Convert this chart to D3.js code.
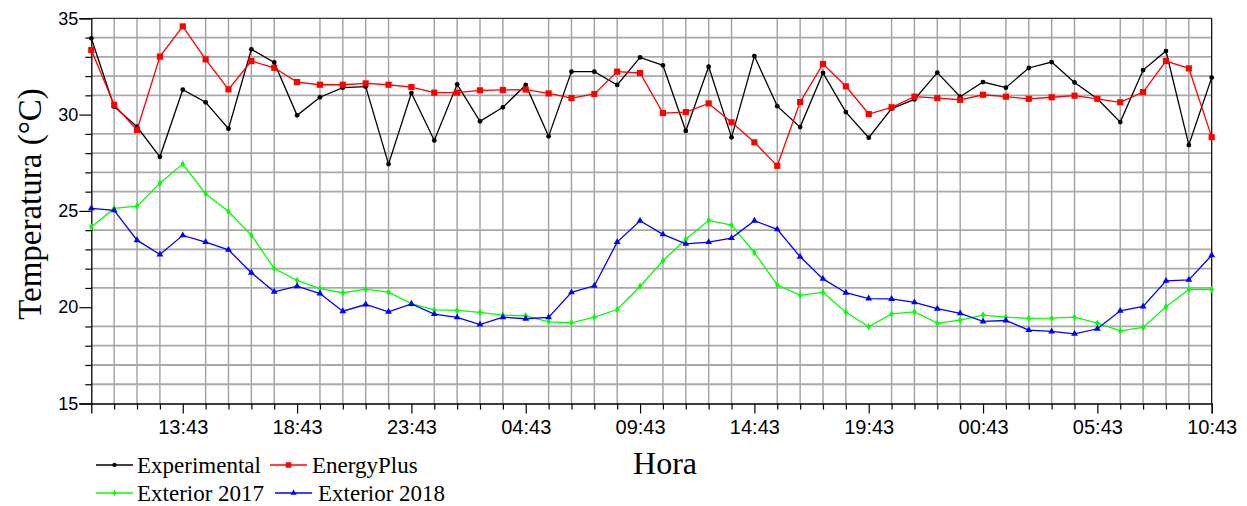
<!DOCTYPE html>
<html>
<head>
<meta charset="utf-8">
<script src="https://cdn.jsdelivr.net/npm/d3@7"></script>
<style>
  html, body { margin: 0; padding: 0; background: #fff; }
  svg { display: block; }
</style>
</head>
<body>
<svg id="chart" width="1247" height="506"></svg>
<script>
const hours = [
  "09:43","10:43","11:43","12:43","13:43","14:43","15:43","16:43","17:43","18:43",
  "19:43","20:43","21:43","22:43","23:43","00:43","01:43","02:43","03:43","04:43",
  "05:43","06:43","07:43","08:43","09:43","10:43","11:43","12:43","13:43","14:43",
  "15:43","16:43","17:43","18:43","19:43","20:43","21:43","22:43","23:43","00:43",
  "01:43","02:43","03:43","04:43","05:43","06:43","07:43","08:43","09:43","10:43"
];
const xTickIdx = [4, 9, 14, 19, 24, 29, 34, 39, 44, 49];
const yTicks = [15, 20, 25, 30, 35];

const experimental = [33.96,30.41,29.37,27.81,31.29,30.64,29.27,33.39,32.71,29.96,
  30.90,31.40,31.45,27.43,31.12,28.66,31.57,29.65,30.38,31.54,
  28.87,32.23,32.23,31.54,32.97,32.56,29.15,32.49,28.82,33.04,
  30.44,29.35,32.16,30.13,28.80,30.31,30.79,32.18,30.93,31.69,
  31.40,32.42,32.73,31.67,30.82,29.61,32.31,33.30,28.42,31.92];
const energyPlus = [33.35,30.51,29.20,33.01,34.58,32.87,31.31,32.78,32.43,31.69,
  31.55,31.55,31.62,31.55,31.43,31.14,31.14,31.26,31.28,31.30,
  31.10,30.86,31.07,32.23,32.16,30.08,30.13,30.58,29.60,28.56,
  27.34,30.65,32.63,31.47,30.03,30.38,30.93,30.86,30.77,31.03,
  30.93,30.82,30.90,30.98,30.82,30.64,31.17,32.78,32.40,28.83];
const exterior2017 = [24.16,25.13,25.25,26.44,27.43,25.89,24.97,23.74,22.01,21.39,
  20.97,20.75,20.94,20.78,20.19,19.86,19.83,19.73,19.59,19.55,
  19.24,19.19,19.48,19.88,21.09,22.41,23.53,24.51,24.26,22.84,
  21.16,20.61,20.78,19.74,18.98,19.65,19.76,19.17,19.33,19.59,
  19.48,19.42,19.43,19.48,19.17,18.77,18.95,20.02,20.92,20.92];
const exterior2018 = [25.13,25.03,23.48,22.74,23.73,23.38,22.98,21.79,20.80,21.09,
  20.71,19.79,20.14,19.76,20.17,19.64,19.47,19.10,19.48,19.40,
  19.47,20.77,21.11,23.38,24.49,23.78,23.29,23.38,23.59,24.49,
  24.04,22.62,21.47,20.75,20.45,20.43,20.25,19.92,19.68,19.26,
  19.31,18.81,18.74,18.62,18.88,19.81,20.04,21.37,21.42,22.70];

const seriesNames = ["Experimental", "EnergyPlus", "Exterior 2017", "Exterior 2018"];

const series = [
  { name: seriesNames[0], values: experimental, color: "#000000", symbol: d3.symbolCircle, size: 18 },
  { name: seriesNames[1], values: energyPlus, color: "#ff0000", symbol: d3.symbolSquare, size: 38 },
  { name: seriesNames[2], values: exterior2017, color: "#00ff00", symbol: d3.symbolDiamond, size: 16 },
  { name: seriesNames[3], values: exterior2018, color: "#0000ff", symbol: d3.symbolTriangle, size: 20 }
];

const svg = d3.select("#chart");
const L = 91.3, R = 1211.7, T = 18.3, B = 403.5;

const x = d3.scaleLinear().domain([0, hours.length - 1]).range([L, R]);
const y = d3.scaleLinear().domain([15, 35]).range([B, T]);

const g = svg.append("g");

// grid (minor positions only)
const allIdx = d3.range(1, hours.length - 1).filter(i => !xTickIdx.includes(i));
g.selectAll(".vgrid").data(allIdx).join("line")
  .attr("x1", d => x(d)).attr("x2", d => x(d))
  .attr("y1", T).attr("y2", B)
  .attr("stroke", "#a0a0a0").attr("stroke-width", 1.4);

const minorY = d3.range(16, 35).filter(v => !yTicks.includes(v));
g.selectAll(".hgrid").data(minorY).join("line")
  .attr("x1", L).attr("x2", R)
  .attr("y1", d => y(d)).attr("y2", d => y(d))
  .attr("stroke", "#a8a8a8").attr("stroke-width", 1.8);

// frame
g.append("line").attr("x1", L).attr("x2", R).attr("y1", T).attr("y2", T)
  .attr("stroke", "#333").attr("stroke-width", 1.2);
g.append("line").attr("x1", R).attr("x2", R).attr("y1", T).attr("y2", B)
  .attr("stroke", "#000").attr("stroke-width", 1.2);

// y axis
const yAxis = g.append("g").attr("transform", `translate(${L},0)`)
  .call(d3.axisLeft(y).tickValues(yTicks).tickSize(12).tickPadding(1).tickFormat(d3.format("d")));
yAxis.selectAll("text").attr("font-family", "'Liberation Sans', Arial, sans-serif").attr("font-size", 18).attr("fill", "#000");
yAxis.select(".domain").attr("stroke", "#000").attr("stroke-width", 1.3);
yAxis.selectAll(".tick line").attr("stroke", "#000").attr("stroke-width", 1.2);
g.append("g").attr("transform", `translate(${L},0)`)
  .call(d3.axisLeft(y).tickValues(minorY).tickSize(6).tickFormat(""))
  .call(s => s.select(".domain").remove())
  .selectAll("line").attr("stroke", "#000").attr("stroke-width", 1.2);

// x axis
const xAxis = g.append("g").attr("transform", `translate(0,${B})`)
  .call(d3.axisBottom(x).tickValues(xTickIdx).tickSize(10).tickPadding(6).tickFormat(i => hours[i]));
xAxis.selectAll("text").attr("font-family", "'Liberation Sans', Arial, sans-serif").attr("font-size", 20).attr("fill", "#000");
xAxis.select(".domain").attr("stroke", "#000").attr("stroke-width", 1.3);
xAxis.selectAll(".tick line").attr("stroke", "#000").attr("stroke-width", 1.2);
g.append("g").attr("transform", `translate(0,${B})`)
  .call(d3.axisBottom(x).tickValues(allIdx).tickSize(6).tickFormat(""))
  .call(s => s.select(".domain").remove())
  .selectAll("line").attr("stroke", "#000").attr("stroke-width", 1.2);

// lines
const line = d3.line().x((d, i) => x(i)).y(d => y(d));
series.forEach(s => {
  g.append("path").datum(s.values)
    .attr("fill", "none").attr("stroke", s.color).attr("stroke-width", 1.3)
    .attr("d", line);
  g.selectAll(null).data(s.values).join("path")
    .attr("transform", (d, i) => `translate(${x(i)},${y(d)})`)
    .attr("d", d3.symbol().type(s.symbol).size(s.size))
    .attr("fill", s.color);
});

// axis titles
svg.append("text")
  .attr("transform", "translate(41,204) rotate(-90)")
  .attr("text-anchor", "middle")
  .attr("font-family", "'Liberation Serif', 'Times New Roman', serif")
  .attr("font-size", 33).attr("fill", "#000")
  .text("Temperatura (°C)");
svg.append("text")
  .attr("x", 665).attr("y", 474)
  .attr("text-anchor", "middle")
  .attr("font-family", "'Liberation Serif', 'Times New Roman', serif")
  .attr("font-size", 32).attr("fill", "#000")
  .text("Hora");

// legend
const legendPos = [
  { lx: 96, tx: 137, y: 465 },
  { lx: 270, tx: 312, y: 465 },
  { lx: 96, tx: 137, y: 493 },
  { lx: 275, tx: 318, y: 493 }
];
series.forEach((s, k) => {
  const p = legendPos[k];
  const lg = svg.append("g");
  lg.append("line").attr("x1", p.lx).attr("x2", p.lx + 37).attr("y1", p.y).attr("y2", p.y)
    .attr("stroke", s.color).attr("stroke-width", 1.3);
  lg.append("path").attr("transform", `translate(${p.lx + 18.5},${p.y})`)
    .attr("d", d3.symbol().type(s.symbol).size(s.size * 0.8)).attr("fill", s.color);
  lg.append("text").attr("x", p.tx).attr("y", p.y).attr("dy", "0.33em")
    .attr("font-family", "'Liberation Serif', 'Times New Roman', serif")
    .attr("font-size", 23).attr("fill", "#000")
    .text(s.name);
});
</script>
</body>
</html>
